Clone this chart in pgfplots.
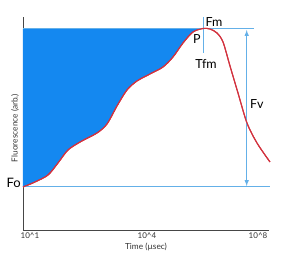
\documentclass[border=0pt]{standalone}
\usepackage{pgfplots}
\pgfplotsset{compat=1.18}
\usepgfplotslibrary{fillbetween}
\usepackage{fontspec}
\setmainfont{Lato}
\definecolor{fillblue}{RGB}{20,136,240}
\definecolor{lineblue}{RGB}{100,176,232}
\definecolor{curvered}{RGB}{210,50,62}
\definecolor{axgray}{RGB}{70,70,70}
\begin{document}
\begin{tikzpicture}
\begin{axis}[
  at={(0,0)}, anchor=south west,
  scale only axis, width=246pt, height=213pt,
  xmin=0, xmax=246, ymin=0, ymax=213,
  axis lines=left, axis line style={-, axgray, line width=0.8pt},
  clip=false,
  xtick={7,124,235},
  xticklabels={10\textasciicircum 1,10\textasciicircum 4,10\textasciicircum 8},
  ytick=\empty,
  major tick length=0pt,
  tick label style={font=\fontsize{8}{8}\selectfont, text=black!80},
  xticklabel style={yshift=1pt},
  /pgf/number format/assume math mode=true,
]
\addplot[name path=top, draw=none] coordinates {(0,201) (181,201)};
\addplot[name path=curve, curvered, line width=1.1pt, smooth, tension=0.5] coordinates {
(0,43) (12,48) (25,55) (35,67) (45,80) (58,88.5) (74,97) (84,106) (94,124) (104,140)
(114,149) (127,156) (140,163) (150,173) (160,187) (170,198) (180,201.5) (187,201)
(194,197) (200,188) (207,164) (215,137) (224,107) (234,87) (247,68)};
\addplot[fillblue] fill between[of=top and curve, soft clip={domain=0:180.5}];
\addplot[lineblue, line width=1pt] coordinates {(0,201) (231,201)};
\addplot[lineblue, line width=1pt] coordinates {(0,43) (247,43)};
\addplot[lineblue, line width=1pt] coordinates {(180.3,213) (180.3,177)};
\addplot[lineblue, line width=1pt, <->, >=latex] coordinates {(223.7,44) (223.7,200)};
\addplot[curvered, line width=1.1pt, smooth, tension=0.5] coordinates {
(0,43) (12,48) (25,55) (35,67) (45,80) (58,88.5) (74,97) (84,106) (94,124) (104,140)
(114,149) (127,156) (140,163) (150,173) (160,187) (170,198) (180,201.5) (187,201)
(194,197) (200,188) (207,164) (215,137) (224,107) (234,87) (247,68)};
\node[anchor=west, font=\fontsize{12.5}{12}\selectfont, inner sep=0pt] at (axis cs:182.5,208) {Fm};
\node[font=\fontsize{12.5}{12}\selectfont, inner sep=0pt] at (axis cs:174,191) {P};
\node[font=\fontsize{12.5}{12}\selectfont, inner sep=0pt] at (axis cs:183,166) {Tfm};
\node[anchor=west, font=\fontsize{12.5}{12}\selectfont, inner sep=0pt] at (axis cs:227,126) {Fv};
\node[anchor=east, font=\fontsize{13}{12}\selectfont, inner sep=0pt] at (axis cs:-2,47) {Fo};
\node[rotate=90, font=\fontsize{8.3}{8}\selectfont, text=black!80, inner sep=0pt] at (axis cs:-8,102) {Fluorescence (arb.)};
\node[font=\fontsize{8.3}{8}\selectfont, text=black!80, inner sep=0pt] at (axis cs:123,-17) {Time (µsec)};
\end{axis}
\pgfresetboundingbox
\path[use as bounding box] (-23pt,-26pt) rectangle (267pt,230pt);
\end{tikzpicture}
\end{document}
